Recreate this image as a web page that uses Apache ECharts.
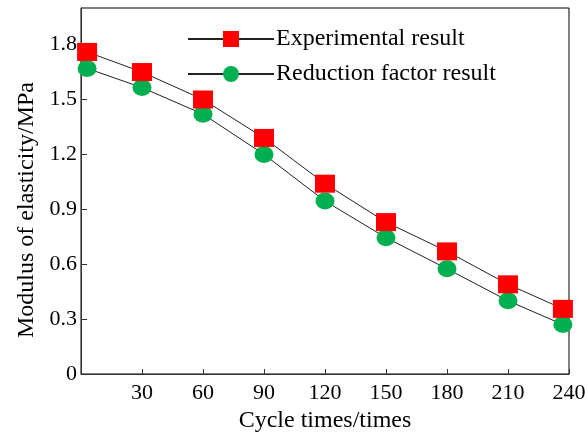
<!DOCTYPE html>
<html>
<head>
<meta charset="utf-8">
<script src="https://cdn.jsdelivr.net/npm/echarts@6/dist/echarts.min.js"></script>
<style>
  html, body { margin: 0; padding: 0; background: #fff; }
  #chart { width: 588px; height: 432px; }
</style>
</head>
<body>
<div id="chart"></div>
<script>
// cycle times where the points sit
const cycles = [3, 30, 60, 90, 120, 150, 180, 210, 237]
const experimental = [1.76, 1.65, 1.50, 1.29, 1.04, 0.83, 0.67, 0.49, 0.356]
const reduction = [1.67, 1.565, 1.42, 1.20, 0.945, 0.745, 0.575, 0.40, 0.27]

const FONT = 'Liberation Serif'

const myChart = echarts.init(document.getElementById('chart'))
const option = {
  animation: false,
  backgroundColor: '#fff',
  grid: {
    left: 81,
    right: 19,
    top: 8,
    bottom: 58,
    outerBoundsMode: 'none',
    show: true,
    borderColor: '#000',
    borderWidth: 1,
  },
  legend: {
    orient: 'vertical',
    left: 187,
    top: 27,
    padding: 0,
    itemWidth: 86,
    itemHeight: 20,
    itemGap: 11,
    textStyle: { fontFamily: FONT, fontSize: 24, color: '#000', padding: [0, 0, 0, -3] },
    data: ['Experimental result', 'Reduction factor result'],
  },
  xAxis: {
    type: 'value',
    min: 0,
    max: 240,
    interval: 30,
    name: 'Cycle times/times',
    nameLocation: 'middle',
    nameGap: 27,
    nameTextStyle: { fontFamily: FONT, fontSize: 24, color: '#000' },
    axisLine: { lineStyle: { color: '#333', width: 1 } },
    axisTick: { inside: true, length: 5, lineStyle: { color: '#333' } },
    axisLabel: { showMinLabel: false, fontFamily: FONT, fontSize: 22, color: '#000', margin: 8 },
    splitLine: { show: false },
  },
  yAxis: {
    type: 'value',
    min: 0,
    max: 2.0,
    interval: 0.3,
    name: 'Modulus of elasticity/MPa',
    nameLocation: 'middle',
    nameGap: 37,
    nameTextStyle: { fontFamily: FONT, fontSize: 24, color: '#000', padding: [0, 38, 0, 0] },
    axisLine: { lineStyle: { color: '#333', width: 1 } },
    axisTick: { inside: true, length: 6, lineStyle: { color: '#333' } },
    axisLabel: {
      showMaxLabel: false,
      fontFamily: FONT,
      fontSize: 22,
      color: '#000',
      margin: 4,
      formatter: (v) => (v === 0 ? '0' : v.toFixed(1)),
    },
    splitLine: { show: false },
  },
  series: [
    {
      name: 'Experimental result',
      type: 'line',
      data: cycles.map((c, i) => [c, experimental[i]]),
      symbol: 'rect',
      symbolSize: [20, 18],
      itemStyle: { color: '#ff0000' },
      lineStyle: { color: '#222', width: 1 },
      z: 3,
    },
    {
      name: 'Reduction factor result',
      type: 'line',
      data: cycles.map((c, i) => [c, reduction[i]]),
      symbol: 'circle',
      symbolSize: [19, 17],
      itemStyle: { color: '#00b050' },
      lineStyle: { color: '#222', width: 1 },
      z: 2,
    },
  ],
}
myChart.setOption(option)
</script>
</body>
</html>
